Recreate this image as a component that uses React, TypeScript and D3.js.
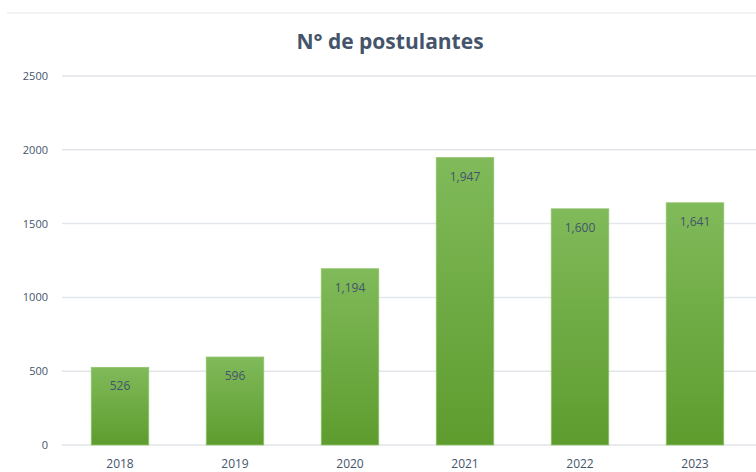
import React from "react";
import * as d3 from "d3";

const categories = ["2018", "2019", "2020", "2021", "2022", "2023"];
const values = [526, 596, 1194, 1947, 1600, 1641];
const yTicks = [0, 500, 1000, 1500, 2000, 2500];
const title = "N° de postulantes";

const W = 756;
const H = 472;

export default function App() {
  const x = d3.scaleBand<string>().domain(categories).range([62.5, 752.5]).paddingInner(0.5).paddingOuter(0.25);
  const y = d3.scaleLinear().domain([0, 2500]).range([445, 76]);
  const fmt = d3.format(",");
  const font = "'Open Sans', 'Liberation Sans', sans-serif";
  return (
    <svg width={W} height={H} style={{ position: "absolute", left: 0, top: 0, background: "#fff" }} fontFamily={font}>
      <defs>
        <linearGradient id="barGrad" x1="0" y1="0" x2="0" y2="1">
          <stop offset="0%" stopColor="#80BA5A" />
          <stop offset="100%" stopColor="#5E9C2E" />
        </linearGradient>
      </defs>
      <line x1={7} x2={756} y1={13} y2={13} stroke="#E4E6EA" strokeWidth={1} />
      <text x={390} y={49} textAnchor="middle" fontSize={21} fontWeight={700} fill="#44546A">{title}</text>
      {yTicks.map((t) => (
        <g key={t}>
          <line x1={62} x2={756} y1={y(t)} y2={y(t)} stroke="#E2E5EA" strokeWidth={1.5} />
          <text x={48} y={y(t) + 4} textAnchor="end" fontSize={11} fill="#44546A">{t}</text>
        </g>
      ))}
      {categories.map((c, i) => (
        <g key={c}>
          <rect x={x(c)} y={y(values[i])} width={x.bandwidth()} height={y(0) - y(values[i])} fill="url(#barGrad)" stroke="#8FC36B" strokeWidth={0.8} />
          <text x={(x(c) as number) + x.bandwidth() / 2} y={y(values[i]) + 23} textAnchor="middle" fontSize={12} fill="#44546A">{fmt(values[i])}</text>
          <text x={(x(c) as number) + x.bandwidth() / 2} y={468} textAnchor="middle" fontSize={12} fill="#44546A">{c}</text>
        </g>
      ))}
    </svg>
  );
}
